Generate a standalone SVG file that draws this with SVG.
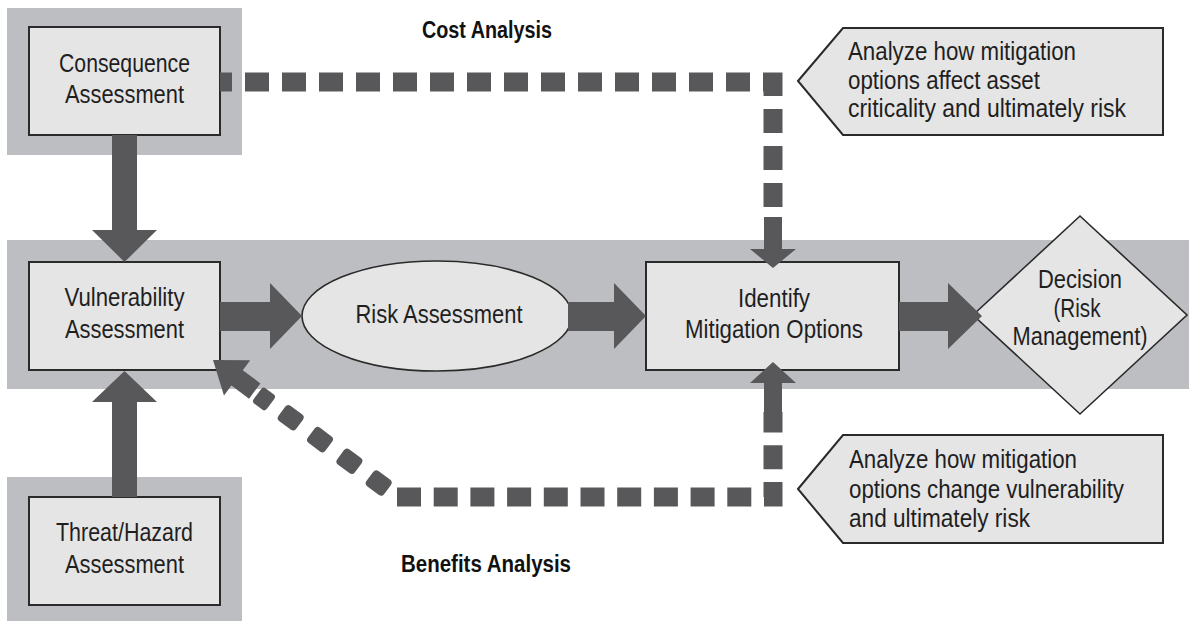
<svg xmlns="http://www.w3.org/2000/svg" width="1189" height="621" viewBox="0 0 1189 621">
  <style>
    .panel { fill: #bdbec2; }
    .box { fill: #e5e5e5; stroke: #2a2a2a; stroke-width: 2; }
    .thin { fill: #e5e5e5; stroke: #2a2a2a; stroke-width: 1.6; }
    .lbl { font-family: "Liberation Sans Narrow", "Arial Narrow", "Liberation Sans", Arial, sans-serif; font-size: 26px; fill: #1f1f1f; }
    .mid { text-anchor: middle; }
    .head { font-family: "Liberation Sans Narrow", "Arial Narrow", "Liberation Sans", Arial, sans-serif; font-size: 23px; font-weight: bold; fill: #111; text-anchor: middle; }
    .solid { fill: #58585a; }
    .dash { fill: none; stroke: #58585a; stroke-width: 19; stroke-linecap: butt; stroke-linejoin: miter; }
    .chip { fill: #58585a; }
  </style>
  <defs>
    <rect id="chip" x="-11" y="-9.5" width="22" height="19" rx="4" ry="4"/>
  </defs>

  <!-- shaded backdrop behind the main process row -->
  <g id="band">
    <rect class="panel" x="7" y="240" width="1182" height="149"/>
  </g>

  <g id="consequence">
    <rect class="panel" x="7" y="8" width="235" height="147"/>
    <rect class="box" x="29" y="27" width="191" height="108"/>
    <text class="lbl mid" x="124.5" y="72" textLength="131" lengthAdjust="spacingAndGlyphs">Consequence</text>
    <text class="lbl mid" x="124.5" y="103" textLength="119" lengthAdjust="spacingAndGlyphs">Assessment</text>
  </g>

  <g id="vulnerability">
    <rect class="box" x="29" y="262" width="191" height="108"/>
    <text class="lbl mid" x="124.5" y="306" textLength="120" lengthAdjust="spacingAndGlyphs">Vulnerability</text>
    <text class="lbl mid" x="124.5" y="338" textLength="119" lengthAdjust="spacingAndGlyphs">Assessment</text>
  </g>

  <g id="threat">
    <rect class="panel" x="7" y="477" width="235" height="144"/>
    <rect class="box" x="29" y="497" width="191" height="108"/>
    <text class="lbl mid" x="124.5" y="541" textLength="137" lengthAdjust="spacingAndGlyphs">Threat/Hazard</text>
    <text class="lbl mid" x="124.5" y="573" textLength="119" lengthAdjust="spacingAndGlyphs">Assessment</text>
  </g>

  <g id="risk">
    <ellipse class="thin" cx="437" cy="316" rx="135" ry="55"/>
    <text class="lbl mid" x="439" y="323" textLength="167" lengthAdjust="spacingAndGlyphs">Risk Assessment</text>
  </g>

  <g id="mitigation">
    <rect class="box" x="646" y="262" width="253" height="108"/>
    <text class="lbl mid" x="774" y="307" textLength="72" lengthAdjust="spacingAndGlyphs">Identify</text>
    <text class="lbl mid" x="774" y="338" textLength="178" lengthAdjust="spacingAndGlyphs">Mitigation Options</text>
  </g>

  <g id="decision">
    <polygon class="thin" points="973,315 1080,216 1187,315 1080,414"/>
    <text class="lbl mid" x="1080" y="288" textLength="84" lengthAdjust="spacingAndGlyphs">Decision</text>
    <text class="lbl mid" x="1077" y="317" textLength="47" lengthAdjust="spacingAndGlyphs">(Risk</text>
    <text class="lbl mid" x="1080" y="345" textLength="135" lengthAdjust="spacingAndGlyphs">Management)</text>
  </g>

  <g id="note-criticality">
    <polygon class="box" points="798,81 843,28 1163,28 1163,135 843,135"/>
    <text class="lbl" x="848" y="60" textLength="228" lengthAdjust="spacingAndGlyphs">Analyze how mitigation</text>
    <text class="lbl" x="848" y="88.5" textLength="192" lengthAdjust="spacingAndGlyphs">options affect asset</text>
    <text class="lbl" x="848" y="117" textLength="278" lengthAdjust="spacingAndGlyphs">criticality and ultimately risk</text>
  </g>

  <g id="note-vulnerability">
    <polygon class="box" points="798,489 843,435 1163,435 1163,543 843,543"/>
    <text class="lbl" x="849" y="468" textLength="228" lengthAdjust="spacingAndGlyphs">Analyze how mitigation</text>
    <text class="lbl" x="849" y="497.5" textLength="275" lengthAdjust="spacingAndGlyphs">options change vulnerability</text>
    <text class="lbl" x="849" y="527" textLength="181" lengthAdjust="spacingAndGlyphs">and ultimately risk</text>
  </g>

  <g id="cost-label">
    <text class="head" x="487" y="38" textLength="130" lengthAdjust="spacingAndGlyphs">Cost Analysis</text>
  </g>
  <g id="benefits-label">
    <text class="head" x="486" y="572" textLength="170" lengthAdjust="spacingAndGlyphs">Benefits Analysis</text>
  </g>

  <g id="connectors">
    <!-- consequence down to vulnerability -->
    <polygon class="solid" points="112,135 137,135 137,230 157,230 124.5,262 92,230 112,230"/>
    <!-- threat up to vulnerability -->
    <polygon class="solid" points="112,497 137,497 137,402 157,402 124.5,371 92,402 112,402"/>
    <!-- vulnerability to risk -->
    <polygon class="solid" points="220,302 270,302 270,283 302,316 270,349 270,331 220,331"/>
    <!-- risk to mitigation options -->
    <polygon class="solid" points="568,302 614,302 614,283 646,316 614,349 614,331 568,331"/>
    <!-- mitigation options to decision -->
    <polygon class="solid" points="899,302 948,302 948,283 982,316 948,349 948,331 899,331"/>

    <!-- cost analysis loop: consequence across and down into mitigation options -->
    <path class="dash" d="M220,82 H773 V207" stroke-dasharray="24 13" stroke-dashoffset="12"/>
    <polygon class="solid" points="764,217 782,217 782,249 796,249 773,268 750,249 764,249"/>

    <!-- benefits analysis loop: mitigation options down, across and back to vulnerability -->
    <polygon class="solid" points="764,412 782,412 782,383 796,383 773,362 750,383 764,383"/>
    <path class="dash" d="M397,497 H773 V412" stroke-dasharray="24 12.7"/>
    <use href="#chip" class="chip" transform="translate(378.7,483) rotate(36.6)"/>
    <use href="#chip" class="chip" transform="translate(349.4,461.3) rotate(36.6)"/>
    <use href="#chip" class="chip" transform="translate(320,439.6) rotate(36.6)"/>
    <use href="#chip" class="chip" transform="translate(290.7,417.8) rotate(36.6)"/>
    <use href="#chip" class="chip" transform="translate(264,399) rotate(36.6) scale(0.75,1)"/>
    <!-- diagonal arrowhead aimed at the vulnerability box corner -->
    <g transform="translate(213,360) rotate(36.6)">
      <polygon class="solid" points="0,0 30,-22 30,-9.5 52,-9.5 52,9.5 30,9.5 30,22"/>
    </g>
  </g>
</svg>
